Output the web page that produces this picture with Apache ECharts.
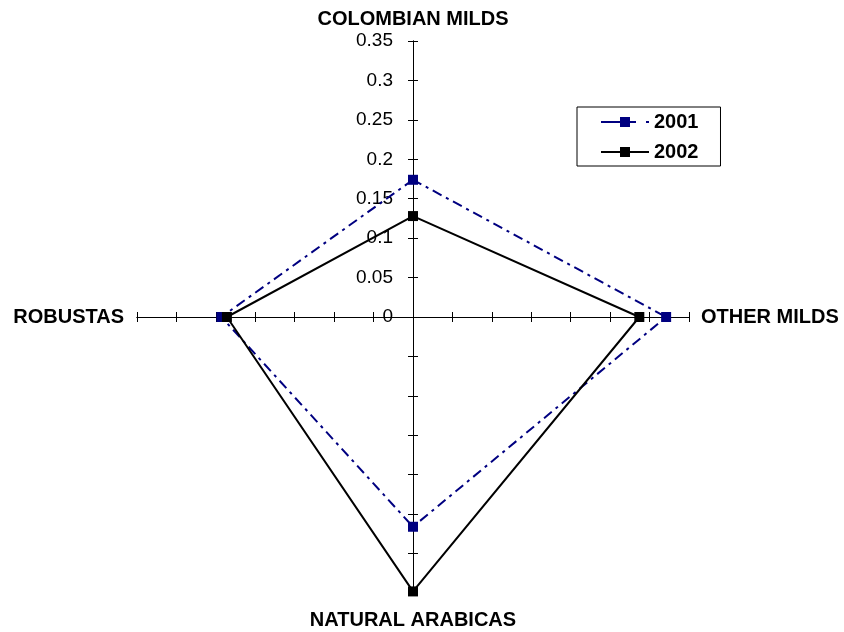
<!DOCTYPE html>
<html><head><meta charset="utf-8">
<script src="https://cdn.jsdelivr.net/npm/echarts@6/dist/echarts.min.js"></script>
<style>html,body{margin:0;padding:0;background:#fff}#c{width:844px;height:632px}</style>
</head><body><div id="c"></div>
<script>
const categories = ['COLOMBIAN MILDS', 'OTHER MILDS', 'NATURAL ARABICAS', 'ROBUSTAS'];
const values2001 = [0.174, 0.321, 0.266, 0.243];
const values2002 = [0.128, 0.287, 0.348, 0.236];
const seriesNames = ['2001', '2002'];
const axisMin = 0;
const axisMax = 0.35;
const axisSplits = 7;

// ECharts radar runs counter-clockwise; the reference runs clockwise from top
const order = [0, 3, 2, 1];
const gapByCategory = [12, 12, 17, 13];
const FONT = '"Liberation Sans", Arial, sans-serif';

function indicators(withNames) {
  return order.map((ci, k) => ({
    name: withNames ? categories[ci] : '',
    min: axisMin,
    max: axisMax,
    nameGap: gapByCategory[ci],
    axisLabel: { show: withNames && k === 0 }
  }));
}
function reorder(arr) { return order.map(i => arr[i]); }

const baseRadar = {
  center: [413, 317],
  radius: 276,
  startAngle: 90,
  splitNumber: axisSplits,
  shape: 'polygon',
  splitLine: { show: false },
  splitArea: { show: false },
  axisLine: { show: true, lineStyle: { color: '#000', width: 1 } }
};

const chart = echarts.init(document.getElementById('c'), null, { renderer: 'canvas' });
chart.setOption({
  animation: false,
  backgroundColor: '#fff',
  legend: {
    orient: 'vertical',
    left: 577,
    top: 107,
    padding: [5, 22, 4, 24],
    itemGap: 10,
    itemWidth: 48,
    itemHeight: 10,
    borderColor: '#000',
    borderWidth: 1,
    textStyle: { fontFamily: FONT, fontWeight: 'bold', fontSize: 20, color: '#000' },
    data: [
      { name: seriesNames[0], icon: 'path://M0,4H19V6H0Z M19,0H29V10H19Z M29,4H35V6H29Z M45,4H48V6H45Z' },
      { name: seriesNames[1], icon: 'path://M0,4H48V6H0Z M19,0H29V10H19Z' }
    ]
  },
  radar: [
    Object.assign({}, baseRadar, {
      indicator: indicators(true),
      axisName: { color: '#000', fontFamily: FONT, fontWeight: 'bold', fontSize: 20 },
      axisTick: { show: true, length: 5, lineStyle: { color: '#000', width: 1 } },
      axisLabel: {
        show: false, color: '#000', fontFamily: FONT, fontSize: 19, margin: 20,
        formatter: v => String(+(+v).toFixed(2))
      }
    }),
    Object.assign({}, baseRadar, {
      indicator: indicators(false),
      axisName: { show: false },
      axisTick: { show: true, length: -5, lineStyle: { color: '#000', width: 1 } },
      axisLabel: { show: false }
    })
  ],
  series: [{
    type: 'radar',
    radarIndex: 0,
    data: [
      {
        name: seriesNames[0],
        value: reorder(values2001),
        symbol: 'rect',
        symbolSize: 10,
        itemStyle: { color: '#000080' },
        lineStyle: { color: '#000080', width: 2, type: [10, 5, 3, 5] }
      },
      {
        name: seriesNames[1],
        value: reorder(values2002),
        symbol: 'rect',
        symbolSize: 10,
        itemStyle: { color: '#000' },
        lineStyle: { color: '#000', width: 2, type: 'solid' }
      }
    ]
  }]
});
</script>
</body></html>
